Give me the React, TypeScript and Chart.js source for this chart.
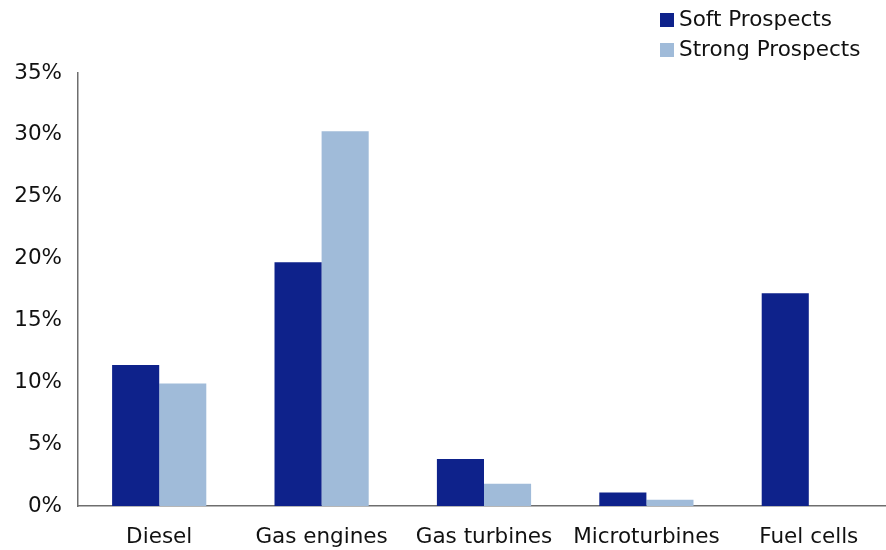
import React, { useEffect, useRef } from "react";
import { Chart, registerables } from "chart.js";

Chart.register(...registerables);

const categories = ["Diesel", "Gas engines", "Gas turbines", "Microturbines", "Fuel cells"];
const softProspects = [11.4, 19.7, 3.8, 1.1, 17.2];
const strongProspects = [9.9, 30.3, 1.8, 0.5, 0];
const seriesNames = ["Soft Prospects", "Strong Prospects"];
const seriesColors = ["#0E228B", "#A0BBD9"];

const FONT = "'DejaVu Sans', Verdana, sans-serif";
const FSIZE = 21.5;

const legendPlugin = {
  id: "stackedLegend",
  afterDraw(chart: any) {
    const ctx = chart.ctx;
    ctx.save();
    ctx.font = `${FSIZE}px ${FONT}`;
    ctx.textBaseline = "middle";
    ctx.textAlign = "left";
    chart.data.datasets.forEach((ds: any, i: number) => {
      const cy = 20 + i * 30;
      ctx.fillStyle = ds.backgroundColor;
      ctx.fillRect(660, cy - 7, 14, 14);
      ctx.fillStyle = "#111";
      ctx.fillText(ds.label, 679, cy);
    });
    ctx.restore();
  },
};

export default function App() {
  const ref = useRef<HTMLCanvasElement | null>(null);
  useEffect(() => {
    if (!ref.current) return;
    const chart = new Chart(ref.current, {
      type: "bar",
      data: {
        labels: categories,
        datasets: [
          { label: seriesNames[0], data: softProspects, backgroundColor: seriesColors[0] },
          { label: seriesNames[1], data: strongProspects, backgroundColor: seriesColors[1] },
        ],
      },
      options: {
        animation: false,
        responsive: false,
        maintainAspectRatio: false,
        layout: { padding: { top: 73, left: 0, right: 0, bottom: 0 } },
        datasets: { bar: { categoryPercentage: 0.58, barPercentage: 1 } },
        plugins: { legend: { display: false }, tooltip: { enabled: false } },
        scales: {
          x: {
            afterFit: (s: any) => { s.height = 44; },
            grid: { display: false, drawTicks: false, tickLength: 0 },
            border: { display: true, color: "#6e6e6e", width: 1.5 },
            ticks: { color: "#111", font: { family: FONT, size: FSIZE }, padding: 19, maxRotation: 0 },
          },
          y: {
            min: 0,
            max: 35,
            afterFit: (s: any) => { s.width = 78; },
            grid: { display: false, drawTicks: false, tickLength: 0 },
            border: { display: true, color: "#6e6e6e", width: 1.5 },
            ticks: {
              stepSize: 5,
              color: "#111",
              padding: 16,
              font: { family: FONT, size: FSIZE },
              callback: (v: any) => `${v}%`,
            },
          },
        },
      },
      plugins: [legendPlugin],
    });
    return () => chart.destroy();
  }, []);
  return (
    <div style={{ position: "fixed", left: 0, top: 0, width: 886, height: 550, overflow: "hidden", background: "#fff" }}>
      <canvas ref={ref} width={890} height={550} style={{ display: "block" }} />
    </div>
  );
}
